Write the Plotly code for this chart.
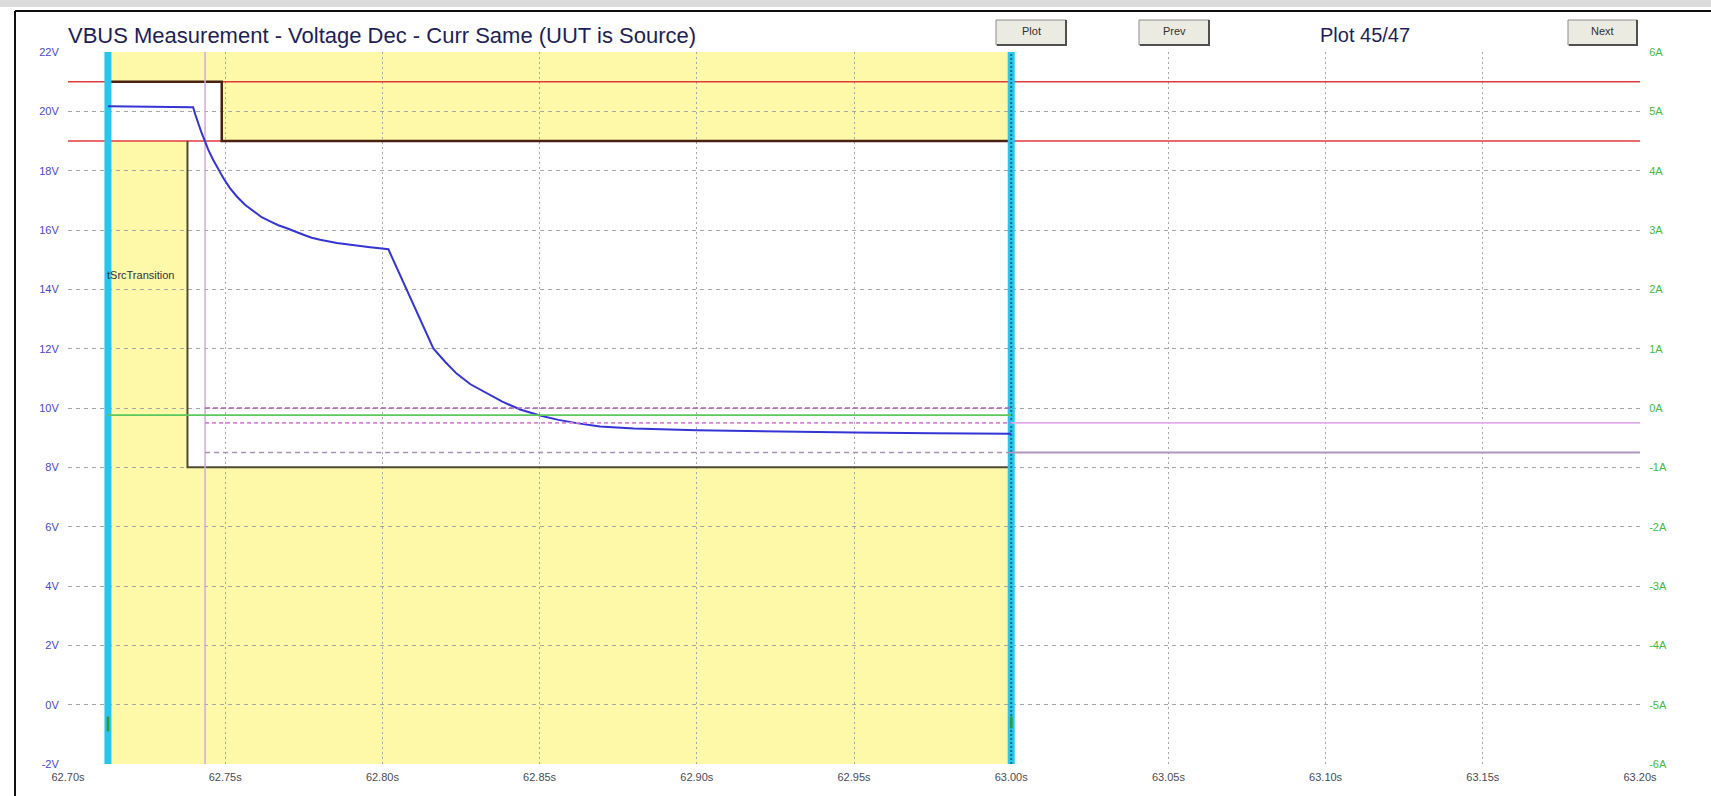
import plotly.graph_objects as go

# ---------------- data ----------------
time_ticks = [62.70, 62.75, 62.80, 62.85, 62.90, 62.95, 63.00, 63.05, 63.10, 63.15, 63.20]
time_labels = ["62.70s", "62.75s", "62.80s", "62.85s", "62.90s", "62.95s", "63.00s",
               "63.05s", "63.10s", "63.15s", "63.20s"]
volt_ticks = [-2, 0, 2, 4, 6, 8, 10, 12, 14, 16, 18, 20, 22]
volt_labels = ["-2V", "0V", "2V", "4V", "6V", "8V", "10V", "12V", "14V", "16V", "18V", "20V", "22V"]
curr_ticks = [-6, -5, -4, -3, -2, -1, 0, 1, 2, 3, 4, 5, 6]
curr_labels = ["-6A", "-5A", "-4A", "-3A", "-2A", "-1A", "0A", "1A", "2A", "3A", "4A", "5A", "6A"]

# VBUS voltage trace
vbus_t = [62.7127, 62.7200, 62.7300, 62.7398, 62.7405, 62.7414, 62.7425, 62.7436, 62.7446,
          62.7462, 62.7478, 62.7494, 62.7515, 62.7537, 62.7563, 62.7590, 62.7616, 62.7643,
          62.7669, 62.7696, 62.7722, 62.7749, 62.7775, 62.7802, 62.7855, 62.7908, 62.7961,
          62.8019, 62.8077, 62.8162, 62.8200, 62.8236, 62.8280, 62.8332, 62.8380, 62.8438,
          62.8501, 62.8560, 62.8618, 62.8692, 62.8800, 62.9000, 62.9250, 62.9500, 62.9750,
          63.0000]
vbus_v = [20.17, 20.16, 20.15, 20.14, 19.89, 19.60, 19.27, 18.98, 18.71,
          18.36, 18.03, 17.75, 17.41, 17.13, 16.85, 16.62, 16.43, 16.29,
          16.16, 16.06, 15.94, 15.84, 15.74, 15.67, 15.56, 15.48, 15.42,
          15.35, 13.98, 12.01, 11.55, 11.16, 10.80, 10.49, 10.22, 9.95,
          9.75, 9.60, 9.49, 9.38, 9.31, 9.25, 9.20, 9.17, 9.15,
          9.13]

# VBUS current trace
curr_t = [62.7127, 63.0000]
curr_a = [-0.12, -0.12]
curr_blip_t = [62.7127, 62.7127, None, 63.0000, 63.0000]
curr_blip_a = [-5.20, -5.45, None, -5.20, -5.40]

# voltage limits
vlim_t = [62.70, 63.20]
vlim_hi = [21, 21]
vlim_lo = [19, 19]

# mask boundaries
upper_mask_t = [62.7127, 62.7489, 62.7489, 63.00]
upper_mask_v = [21, 21, 19, 19]
lower_mask_t = [62.7380, 62.7380, 63.00]
lower_mask_v = [19, 8, 8]

# current limit lines
ilim_dash_t = [62.7436, 63.00]
ilim_solid_t = [63.00, 63.20]
ilim_zero = [0, 0]
ilim_hi = [-0.25, -0.25]
ilim_lo = [-0.75, -0.75]

# cursors / markers
cursor_start = 62.7127
cursor_end = 63.0000
transition_t = 62.7436
volt_range = [-2, 22]
curr_range = [-6, 6]

# shaded test window
shade_t = [62.7127, 63.00]
white_box1_t = [62.7127, 62.7489]
white_box1_v = [19, 21]
white_box2_t = [62.7380, 63.00]
white_box2_v = [8, 19]

# ---------------- layout geometry ----------------
W, H = 1711, 796
ML, MR, MT, MB = 68, 71, 52, 32
PW, PH = W - ML - MR, H - MT - MB


def px(x):
    return (x - ML) / PW


def py(y):
    return (H - MB - y) / PH


FONT = "Liberation Sans, Arial, sans-serif"

fig = go.Figure()

# voltage limits (red)
for v in (vlim_hi, vlim_lo):
    fig.add_trace(go.Scatter(x=vlim_t, y=v, mode="lines",
                             line=dict(color="#e23a3a", width=1.5), hoverinfo="skip"))

# masks
fig.add_trace(go.Scatter(x=upper_mask_t, y=upper_mask_v, mode="lines",
                         line=dict(color="#4a2010", width=2.5), hoverinfo="skip"))
fig.add_trace(go.Scatter(x=lower_mask_t, y=lower_mask_v, mode="lines",
                         line=dict(color="#4e4a36", width=2), hoverinfo="skip"))

# transition cursor (violet)
fig.add_trace(go.Scatter(x=[transition_t, transition_t], y=volt_range, mode="lines",
                         line=dict(color="#d4a8e4", width=1.5), hoverinfo="skip"))

# current limit lines on right axis
fig.add_trace(go.Scatter(x=ilim_dash_t, y=ilim_zero, yaxis="y2", mode="lines",
                         line=dict(color="#b060b8", width=1.5, dash="5px,3px"), hoverinfo="skip"))
fig.add_trace(go.Scatter(x=ilim_dash_t, y=ilim_hi, yaxis="y2", mode="lines",
                         line=dict(color="#d484d4", width=1.6, dash="4px,3px"), hoverinfo="skip"))
fig.add_trace(go.Scatter(x=ilim_dash_t, y=ilim_lo, yaxis="y2", mode="lines",
                         line=dict(color="#a890b8", width=1.4, dash="5px,4px"), hoverinfo="skip"))
fig.add_trace(go.Scatter(x=ilim_solid_t, y=ilim_hi, yaxis="y2", mode="lines",
                         line=dict(color="#e2ace6", width=1.8), hoverinfo="skip"))
fig.add_trace(go.Scatter(x=ilim_solid_t, y=ilim_lo, yaxis="y2", mode="lines",
                         line=dict(color="#b094c2", width=1.8), hoverinfo="skip"))

# current trace (green)
fig.add_trace(go.Scatter(x=curr_t, y=curr_a, yaxis="y2", mode="lines",
                         line=dict(color="#5cc85c", width=1.8), hoverinfo="skip"))

# cyan cursors
for t in (cursor_start, cursor_end):
    fig.add_trace(go.Scatter(x=[t, t], y=volt_range, mode="lines",
                             line=dict(color="#26c6ee", width=7), hoverinfo="skip"))
fig.add_trace(go.Scatter(x=[cursor_end, cursor_end], y=volt_range, mode="lines",
                         line=dict(color="#1d6f86", width=2, dash="2px,2px"), hoverinfo="skip"))
fig.add_trace(go.Scatter(x=curr_blip_t, y=curr_blip_a, yaxis="y2", mode="lines",
                         line=dict(color="#2e9a3a", width=2.5), hoverinfo="skip"))

# voltage trace (blue)
fig.add_trace(go.Scatter(x=vbus_t, y=vbus_v, mode="lines",
                         line=dict(color="#3535d6", width=2), hoverinfo="skip"))

shapes = []
# shaded window (below gridlines)
shapes.append(dict(type="rect", xref="x", yref="y", layer="below",
                   x0=shade_t[0], x1=shade_t[1], y0=volt_range[0], y1=volt_range[1],
                   fillcolor="#fdf9a8", line=dict(width=0)))
shapes.append(dict(type="rect", xref="x", yref="y", layer="below",
                   x0=white_box1_t[0], x1=white_box1_t[1], y0=white_box1_v[0], y1=white_box1_v[1],
                   fillcolor="white", line=dict(width=0)))
shapes.append(dict(type="rect", xref="x", yref="y", layer="below",
                   x0=white_box2_t[0], x1=white_box2_t[1], y0=white_box2_v[0], y1=white_box2_v[1],
                   fillcolor="white", line=dict(width=0)))

# window frame
shapes.append(dict(type="rect", xref="paper", yref="paper", layer="above",
                   x0=px(0), x1=px(W), y0=py(0), y1=py(7),
                   fillcolor="#dcdcdc", line=dict(width=0)))
shapes.append(dict(type="line", xref="paper", yref="paper", layer="above",
                   x0=px(15), x1=px(W), y0=py(11), y1=py(11),
                   line=dict(color="#101010", width=2)))
shapes.append(dict(type="line", xref="paper", yref="paper", layer="above",
                   x0=px(15), x1=px(15), y0=py(11), y1=py(H),
                   line=dict(color="#101010", width=2)))

annotations = []
# buttons
buttons = [("Plot", 996, 1066), ("Prev", 1139, 1209), ("Next", 1568, 1637)]
for label, x0, x1 in buttons:
    shapes.append(dict(type="rect", xref="paper", yref="paper", layer="above",
                       x0=px(x0), x1=px(x1), y0=py(45), y1=py(20),
                       fillcolor="#ecebe2", line=dict(color="#8c8c8c", width=1)))
    shapes.append(dict(type="path", xref="paper", yref="paper", layer="above",
                       path="M %f %f L %f %f L %f %f" % (px(x0 + 1), py(45), px(x1), py(45), px(x1), py(20)),
                       line=dict(color="#505050", width=2)))
    annotations.append(dict(text=label, xref="paper", yref="paper",
                            x=px((x0 + x1) / 2), y=py(31), xanchor="center", yanchor="middle",
                            showarrow=False, font=dict(family=FONT, size=11, color="#303030")))

annotations.append(dict(text="VBUS Measurement - Voltage Dec - Curr Same (UUT is Source)",
                        xref="paper", yref="paper", x=px(66), y=py(35),
                        xanchor="left", yanchor="middle", showarrow=False,
                        font=dict(family=FONT, size=22, color="#1e1e5a")))
annotations.append(dict(text="Plot 45/47", xref="paper", yref="paper", x=px(1365), y=py(35),
                        xanchor="center", yanchor="middle", showarrow=False,
                        font=dict(family=FONT, size=20, color="#1e1e5a")))
annotations.append(dict(text="tSrcTransition", xref="x", yref="y", x=cursor_start, y=14.5,
                        xanchor="left", yanchor="middle", xshift=-3, showarrow=False,
                        font=dict(family=FONT, size=11, color="#333344")))

fig.update_layout(
    width=W, height=H,
    margin=dict(l=ML, r=MR, t=MT, b=MB, pad=0),
    paper_bgcolor="white", plot_bgcolor="white",
    showlegend=False,
    shapes=shapes, annotations=annotations,
    xaxis=dict(range=[time_ticks[0], time_ticks[-1]], tickmode="array",
               tickvals=time_ticks, ticktext=time_labels,
               showgrid=True, gridcolor="#a6a6a6", gridwidth=1, griddash="2px,3px",
               zeroline=False, showline=False, ticks="outside", ticklen=3,
               tickcolor="rgba(0,0,0,0)",
               tickfont=dict(family=FONT, size=11, color="#4a4a58")),
    yaxis=dict(range=volt_range, tickmode="array", tickvals=volt_ticks, ticktext=volt_labels,
               showgrid=True, gridcolor="#a6a6a6", gridwidth=1, griddash="4px,4px",
               zeroline=False, showline=False, ticks="outside", ticklen=6,
               tickcolor="rgba(0,0,0,0)",
               tickfont=dict(family=FONT, size=11, color="#4848cc")),
    yaxis2=dict(range=curr_range, tickmode="array", tickvals=curr_ticks, ticktext=curr_labels,
                overlaying="y", side="right", showgrid=False, zeroline=False, showline=False,
                ticks="outside", ticklen=6, tickcolor="rgba(0,0,0,0)",
                tickfont=dict(family=FONT, size=11, color="#44bb44")),
)

fig.write_html("out.html", config={"displayModeBar": False},
               post_script="document.body.style.margin='0';document.body.style.overflow='hidden';")
